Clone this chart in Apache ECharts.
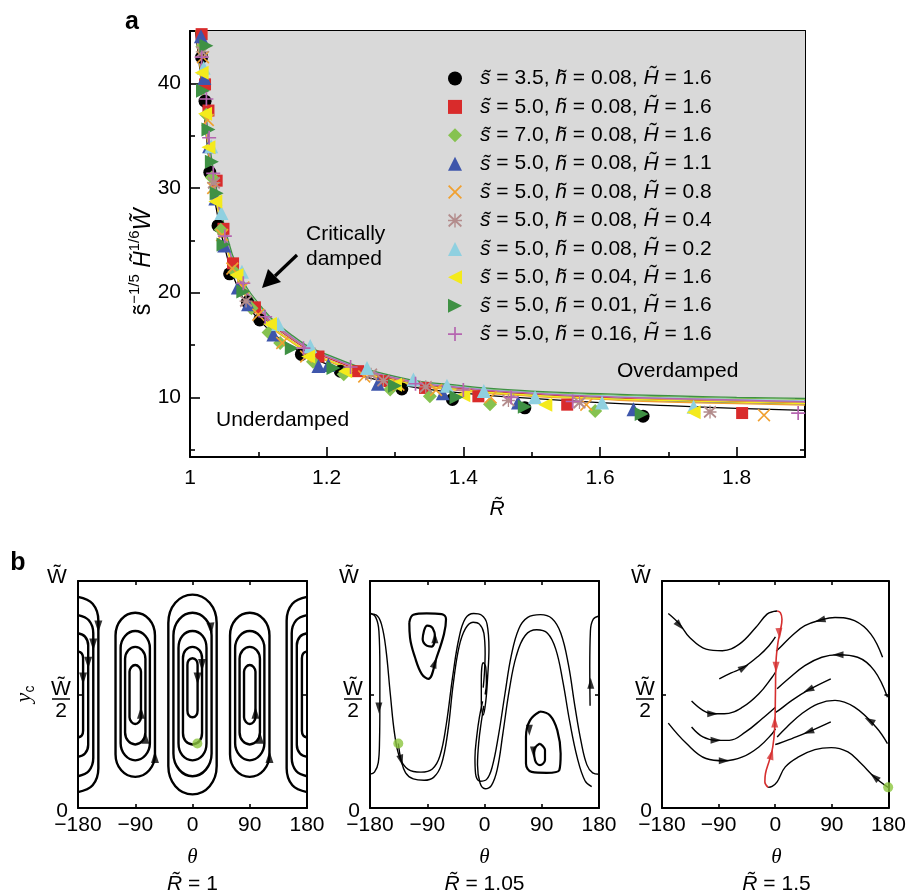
<!DOCTYPE html>
<html><head><meta charset="utf-8">
<script src="https://cdn.jsdelivr.net/npm/echarts@6/dist/echarts.min.js"></script>
<style>html,body{margin:0;padding:0;background:#fff}#c{width:909px;height:894px}</style>
</head><body><div id="c"></div>
<script>
// ---------- Panel a: tick values ----------
const xTicksA = [1, 1.2, 1.4, 1.6, 1.8];
const xMinorA = [1.1, 1.3, 1.5, 1.7];
const yTicksA = [10, 20, 30, 40];
const yMinorA = [5, 15, 25, 35];
const thetaLabels = [-180, -90, 0, 90, 180];
const thetaTicks = [-90, 0, 90];

// ---------- Panel a: legend parameters ----------
const sVals = ['3.5', '5.0', '7.0', '5.0', '5.0', '5.0', '5.0', '5.0', '5.0', '5.0'];
const hVals = ['0.08', '0.08', '0.08', '0.08', '0.08', '0.08', '0.08', '0.04', '0.01', '0.16'];
const HVals = ['1.6', '1.6', '1.6', '1.1', '0.8', '0.4', '0.2', '1.6', '1.6', '1.6'];

// ---------- Panel a: measured points [R, scaled W] ----------
const ptsBlack = [[1.017,42.5],[1.022,38.3],[1.029,31.5],[1.041,26.4],[1.058,21.8],[1.084,19.1],[1.102,17.4],[1.163,14.1],[1.22,12.5],[1.31,10.8],[1.384,9.8],[1.49,9.0],[1.663,8.2]];
const ptsRed = [[1.017,44.7],[1.022,39.9],[1.027,37.4],[1.039,30.7],[1.049,26.1],[1.063,22.8],[1.095,18.6],[1.188,13.9],[1.246,12.5],[1.283,11.55],[1.344,10.9],[1.422,10.1],[1.552,9.3],[1.808,8.5]];
const ptsDiamond = [[1.018,43.5],[1.024,37],[1.032,31],[1.045,26],[1.065,22],[1.09,18.5],[1.115,16.2],[1.132,15.2],[1.18,13.4],[1.225,12.2],[1.293,10.76],[1.351,10.1],[1.439,9.33],[1.593,8.7]];
const ptsBlue = [[1.016,44.5],[1.021,40.5],[1.028,34],[1.037,29],[1.05,24.5],[1.07,20.5],[1.085,18.9],[1.122,16],[1.188,13],[1.2025,13.1],[1.275,11.3],[1.37,10.4],[1.48,9.5],[1.649,8.86]];
const ptsOrange = [[1.019,42.5],[1.026,36.5],[1.034,30],[1.047,25.5],[1.062,22.3],[1.078,20.5],[1.1,17.9],[1.135,15.2],[1.17,13.9],[1.255,12],[1.305,11.2],[1.36,10.7],[1.44,10],[1.58,9.3],[1.84,8.3]];
const ptsAsterisk = [[1.018,43],[1.035,30.5],[1.082,19.2],[1.175,14.2],[1.265,12.2],[1.283,11.6],[1.345,11],[1.466,9.7],[1.57,9.5],[1.761,8.6]];
const ptsCyan = [[1.02,41.5],[1.031,34],[1.046,27.6],[1.076,22],[1.129,17],[1.176,14.9],[1.259,12.8],[1.327,11.7],[1.376,11.1],[1.43,10.6],[1.505,10.0],[1.603,9.5],[1.737,9.1]];
const ptsYellow = [[1.017,41],[1.022,37.1],[1.027,33.9],[1.037,28.7],[1.068,21.7],[1.117,17],[1.173,13.9],[1.227,12.5],[1.3,11.2],[1.4,10.2],[1.52,9.3],[1.737,8.57]];
const ptsGreen = [[1.024,43.6],[1.019,39.3],[1.027,35.6],[1.032,32.5],[1.039,29.5],[1.049,24.6],[1.078,20.1],[1.149,14.7],[1.21,12.8],[1.3,11.1],[1.39,10.0],[1.49,9.1],[1.661,8.4]];
const ptsPlus = [[1.017,42.5],[1.024,38.5],[1.028,34.8],[1.034,31.4],[1.051,25.4],[1.078,20.9],[1.11,17.7],[1.166,14.7],[1.235,12.9],[1.33,11.3],[1.4,10.7],[1.47,10.0],[1.56,9.6],[1.89,8.5]];

// ---------- Panel a: fitted curves (shared R grid) ----------
const fitR = [1.008, 1.015, 1.02, 1.03, 1.04, 1.05, 1.07, 1.1, 1.15, 1.2, 1.3, 1.4, 1.5, 1.6, 1.7, 1.8, 1.9];
const fitBlack = [45, 41, 37.5, 31.5, 27.5, 24.5, 20.5, 17.5, 14.8, 13.2, 11.3, 10.4, 9.9, 9.5, 9.2, 8.95, 8.75];
const fitRed = [46, 42, 38.5, 32.5, 28.7, 25.7, 21.6, 18.4, 15.5, 13.8, 11.7, 10.8, 10.3, 10.0, 9.75, 9.6, 9.45];
const fitDiamond = [46.5, 42.3, 38.8, 33, 29.1, 26.1, 22, 18.8, 15.8, 14.0, 11.9, 11.0, 10.5, 10.25, 10.05, 9.9, 9.8];
const fitBlue = [45.8, 41.8, 38.3, 32.3, 28.5, 25.5, 21.4, 18.2, 15.3, 13.6, 11.6, 10.7, 10.2, 9.9, 9.65, 9.5, 9.35];
const fitOrange = [45.5, 41.5, 38, 32, 28.2, 25.2, 21.2, 18.0, 15.2, 13.5, 11.5, 10.6, 10.1, 9.8, 9.55, 9.4, 9.25];
const fitAsterisk = [46, 42, 38.5, 32.6, 28.8, 25.8, 21.7, 18.5, 15.6, 13.9, 11.8, 10.9, 10.4, 10.1, 9.85, 9.7, 9.55];
const fitCyan = [46.2, 42.2, 38.7, 32.8, 29, 26, 21.9, 18.7, 15.75, 14.0, 11.9, 10.95, 10.45, 10.15, 9.95, 9.8, 9.65];
const fitYellow = [45.7, 41.7, 38.2, 32.2, 28.4, 25.4, 21.3, 18.1, 15.3, 13.6, 11.6, 10.7, 10.2, 9.9, 9.7, 9.55, 9.4];
const fitGreen = [48, 42.5, 39, 33.5, 29.5, 26.5, 22.3, 19, 15.9, 14.1, 12.0, 11.1, 10.6, 10.35, 10.15, 10.0, 9.9];
const fitPlus = [46.1, 42.1, 38.6, 32.7, 28.9, 25.9, 21.8, 18.6, 15.7, 13.95, 11.85, 10.9, 10.4, 10.1, 9.9, 9.75, 9.6];

// ---------- Panel b1 (R = 1): closed orbits [theta, y/W] ----------
const b1Curves = [
  [[38,0.5],[38,0.815],[27,0.904],[0,0.94],[-27,0.904],[-38,0.815],[-38,0.5],[-38,0.185],[-27,0.096],[0,0.06],[27,0.096],[38,0.185],[38,0.5]],
  [[30,0.5],[30,0.76],[21,0.831],[0,0.86],[-21,0.831],[-30,0.76],[-30,0.5],[-30,0.24],[-21,0.169],[0,0.14],[21,0.169],[30,0.24],[30,0.5]],
  [[22,0.5],[22,0.705],[16,0.758],[0,0.78],[-16,0.758],[-22,0.705],[-22,0.5],[-22,0.285],[-16,0.232],[0,0.21],[16,0.232],[22,0.285],[22,0.5]],
  [[15,0.5],[15,0.66],[11,0.695],[0,0.71],[-11,0.695],[-15,0.66],[-15,0.5],[-15,0.33],[-11,0.295],[0,0.28],[11,0.295],[15,0.33],[15,0.5]],
  [[8,0.53],[8,0.63],[6,0.651],[0,0.66],[-6,0.651],[-8,0.63],[-8,0.53],[-8,0.43],[-6,0.409],[0,0.40],[6,0.409],[8,0.43],[8,0.53]],
  [[-59,0.5],[-59,0.76],[-68,0.831],[-90,0.86],[-112,0.831],[-121,0.76],[-121,0.5],[-121,0.237],[-112,0.166],[-90,0.137],[-68,0.166],[-59,0.237],[-59,0.5]],
  [[-67,0.5],[-67,0.705],[-74,0.758],[-90,0.78],[-106,0.758],[-113,0.705],[-113,0.5],[-113,0.285],[-106,0.232],[-90,0.21],[-74,0.232],[-67,0.285],[-67,0.5]],
  [[-74,0.5],[-74,0.657],[-79,0.695],[-90,0.71],[-101,0.695],[-106,0.657],[-106,0.5],[-106,0.333],[-101,0.295],[-90,0.28],[-79,0.295],[-74,0.333],[-74,0.5]],
  [[-81,0.5],[-81,0.6],[-84,0.621],[-90,0.63],[-96,0.621],[-99,0.6],[-99,0.5],[-99,0.4],[-96,0.379],[-90,0.37],[-84,0.379],[-81,0.4],[-81,0.5]],
  [[121,0.5],[121,0.76],[112,0.831],[90,0.86],[68,0.831],[59,0.76],[59,0.5],[59,0.237],[68,0.166],[90,0.137],[112,0.166],[121,0.237],[121,0.5]],
  [[113,0.5],[113,0.705],[106,0.758],[90,0.78],[74,0.758],[67,0.705],[67,0.5],[67,0.285],[74,0.232],[90,0.21],[106,0.232],[113,0.285],[113,0.5]],
  [[106,0.5],[106,0.657],[101,0.695],[90,0.71],[79,0.695],[74,0.657],[74,0.5],[74,0.333],[79,0.295],[90,0.28],[101,0.295],[106,0.333],[106,0.5]],
  [[99,0.5],[99,0.6],[96,0.621],[90,0.63],[84,0.621],[81,0.6],[81,0.5],[81,0.4],[84,0.379],[90,0.37],[96,0.379],[99,0.4],[99,0.5]],
  [[-180,0.93],[-157,0.9],[-148,0.825],[-148,0.5],[-148,0.175],[-157,0.1],[-180,0.07]],
  [[-180,0.85],[-163,0.827],[-156,0.77],[-156,0.5],[-156,0.22],[-163,0.163],[-180,0.14]],
  [[-180,0.77],[-169,0.755],[-164,0.717],[-164,0.5],[-164,0.278],[-169,0.24],[-180,0.225]],
  [[-180,0.69],[-174,0.681],[-172,0.66],[-172,0.5],[-172,0.34],[-174,0.319],[-180,0.31]],
  [[180,0.93],[157,0.9],[148,0.825],[148,0.5],[148,0.175],[157,0.1],[180,0.07]],
  [[180,0.85],[163,0.827],[156,0.77],[156,0.5],[156,0.22],[163,0.163],[180,0.14]],
  [[180,0.77],[169,0.755],[164,0.717],[164,0.5],[164,0.278],[169,0.24],[180,0.225]],
  [[180,0.69],[174,0.681],[172,0.66],[172,0.5],[172,0.34],[174,0.319],[180,0.31]]
];
// arrow heads [theta, y/W, direction deg]
const b1Arrows = [[-148,0.8,180],[-156,0.72,180],[-164,0.64,180],[-172,0.57,180],[29,0.79,185],[15,0.63,180],[8,0.57,180],
  [-59,0.225,0],[-74,0.31,0],[-81,0.42,0],[121,0.225,0],[106,0.31,0],[99,0.42,0]];
const b1Start = [[7.6,0.284]];

// ---------- Panel b2 (R = 1.05) ----------
const b2Loops = [
  [[-118.2,0.817],[-111.9,0.851],[-90.9,0.857],[-67.3,0.854],[-60.5,0.832],[-63.7,0.766],[-75.2,0.664],[-88.3,0.569],[-98.8,0.591],[-109.3,0.664],[-117.1,0.751],[-118.2,0.817]],
  [[-95.1,0.781],[-89.9,0.803],[-81.5,0.792],[-77.8,0.751],[-83.1,0.711],[-90.9,0.715],[-97.2,0.744],[-95.1,0.781]],
  [[87.2,0.425],[103.0,0.408],[114.5,0.342],[119.7,0.240],[117.6,0.167],[97.7,0.155],[74.1,0.159],[65.2,0.196],[65.2,0.313],[71.5,0.386],[87.2,0.425]],
  [[87.2,0.284],[95.1,0.254],[95.1,0.211],[87.2,0.189],[79.4,0.211],[77.8,0.254],[87.2,0.284]]
];
const b2Curves = [
  [[-180,0.855],[-170,0.85],[-162,0.81],[-155,0.7],[-148,0.5],[-141,0.32],[-133,0.22],[-120,0.17],[-100,0.158],[-82,0.172],[-70,0.23],[-60,0.37],[-50,0.58],[-40,0.75],[-30,0.835],[-17,0.857],[-5,0.85],[4,0.81],[7,0.7],[5,0.58],[2,0.47],[-2,0.41],[-5,0.46],[-5,0.57],[-2,0.64],[2,0.62],[3,0.55],[1,0.5]],
  [[-135.5,0.284],[-131,0.21],[-124,0.155],[-112,0.128],[-95,0.122],[-80,0.135],[-68,0.19],[-58,0.33],[-49,0.55],[-40,0.71],[-30,0.79],[-18,0.818],[-8,0.81],[-1,0.77],[1,0.68],[0,0.6],[-2,0.53]],
  [[-3,0.47],[-8,0.4],[-12,0.32],[-15,0.22],[-14,0.15],[-7,0.118],[3,0.125],[12,0.18],[22,0.32],[32,0.5],[42,0.67],[54,0.79],[68,0.84],[88,0.852],[106,0.835],[120,0.77],[132,0.63],[142,0.45],[152,0.29],[161,0.19],[170,0.155],[180,0.149]],
  [[-1,0.45],[-5,0.38],[-9,0.29],[-11,0.19],[-7,0.11],[1,0.085],[11,0.1],[20,0.17],[29,0.33],[39,0.52],[50,0.67],[64,0.76],[82,0.785],[99,0.77],[112,0.7],[123,0.56],[134,0.38],[146,0.22],[158,0.12],[168.5,0.094]],
  [[-180,0.86],[-171,0.84],[-166,0.78],[-164.5,0.62],[-164.5,0.45],[-165,0.3],[-167,0.2],[-173,0.158],[-180,0.149]],
  [[180,0.846],[171,0.832],[166.5,0.78],[165.5,0.62],[166,0.45]]
];
const b2Arrows = [[-78,0.64,-19],[-78,0.75,0],[70.5,0.342,180],[77,0.247,180],[-166,0.44,180],[167,0.55,0],[-131,0.21,195]];
const b2Start = [[-135.5,0.284]];

// ---------- Panel b3 (R = 1.5) ----------
const b3Curves = [
  [[-170,0.857],[-152,0.81],[-136,0.751],[-110,0.70],[-84,0.693],[-57,0.722],[-31,0.795],[-13,0.854],[-2,0.866],[2.9,0.868]],
  [[-89,0.569],[-70,0.595],[-50,0.62],[-26,0.671],[-10,0.715],[0.3,0.754]],
  [[-133,0.471],[-115,0.43],[-99,0.415],[-81,0.415],[-52,0.444],[-26,0.503],[-5,0.576],[0.3,0.598]],
  [[-133,0.357],[-115,0.313],[-94,0.298],[-73,0.298],[-47,0.335],[-21,0.393],[0.3,0.444]],
  [[-170,0.374],[-141,0.284],[-110,0.218],[-81,0.208],[-52,0.225],[-26,0.269],[-5,0.327],[0.3,0.349]],
  [[170.6,0.664],[152,0.766],[126,0.825],[95,0.839],[71,0.827],[47,0.803],[26.5,0.759],[8,0.708],[1.5,0.69]],
  [[178.4,0.488],[157.5,0.605],[131,0.664],[100,0.675],[74,0.664],[47,0.627],[21,0.569],[3,0.525]],
  [[88.3,0.569],[53,0.52],[26.5,0.474],[5.5,0.43],[0,0.42]],
  [[178.4,0.284],[160,0.357],[126,0.444],[95,0.474],[68,0.459],[42,0.415],[18.6,0.357],[3,0.313]],
  [[88.3,0.379],[53,0.335],[26.5,0.306],[5.5,0.284],[0,0.28]],
  [[179.5,0.091],[157.5,0.137],[136.5,0.196],[115.5,0.247],[89,0.266],[63,0.257],[37,0.225],[16,0.181],[3,0.115],[-5,0.095],[-11.3,0.091]]
];
const b3Red = [[2.9,0.868],[8.1,0.861],[10.7,0.832],[8.6,0.788],[4.4,0.730],[1.3,0.649],[0.3,0.503],[-0.8,0.357],[-3.9,0.269],[-9.2,0.211],[-15.5,0.152],[-16.5,0.115],[-11.3,0.091]];
const b3Arrows = [[-151.7,0.803,222],[-49.5,0.62,300],[-99.3,0.415,270],[-94.1,0.298,270],[-81,0.208,270],[71,0.827,105],[99.8,0.675,90],[52.7,0.52,115],[52.7,0.335,110],[149.6,0.386,60],[157.5,0.137,50]];
const b3RedArrows = [[6.5,0.769,185],[1.3,0.62,180],[-0.8,0.379,0],[-6,0.237,-15]];
const b3Start = [[179.5,0.091]];

// ================= build chart =================
const FONT = '"Liberation Sans", Arial, sans-serif';
const chart = echarts.init(document.getElementById('c'), null, {renderer: 'canvas'});

const names = sVals.map((s, i) => 's=' + s + ',h=' + hVals[i] + ',H=' + HVals[i]);
const ptsList = [ptsBlack, ptsRed, ptsDiamond, ptsBlue, ptsOrange, ptsAsterisk, ptsCyan, ptsYellow, ptsGreen, ptsPlus];
const fitList = [fitBlack, fitRed, fitDiamond, fitBlue, fitOrange, fitAsterisk, fitCyan, fitYellow, fitGreen, fitPlus];
const colors = ['#000000', '#d92b2b', '#86c250', '#3e56ab', '#f0a030', '#b38c8c', '#8fd0e0', '#f4ea1c', '#3f9144', '#b565b0'];
const symbols = [
  'circle', 'rect', 'diamond', 'triangle',
  'path://M0,9L9,0L50,41L91,0L100,9L59,50L100,91L91,100L50,59L9,100L0,91L41,50Z',
  'path://M45,0H55V100H45Z M0,45H100V55H0Z M8,1L99,85L92,99L1,15Z M92,1L99,15L8,99L1,85Z',
  'triangle',
  'path://M0,50L100,0L100,100Z',
  'path://M100,50L0,0L0,100Z',
  'path://M44,0H56V44H100V56H56V100H44V56H0V44H44Z'
];
const sizes = [13, 12, 14, 14, 13, 13, 14, 14, 14, 14];

const series = [];
// grey overdamped region above the top curve
series.push({
  type: 'line', xAxisIndex: 0, yAxisIndex: 0, smooth: true, symbol: 'none', silent: true, z: 1,
  data: fitR.map((r, i) => [r, fitGreen[i]]),
  lineStyle: {width: 0}, areaStyle: {color: '#d9d9d9', origin: 'end', opacity: 1}
});
fitList.forEach((f, k) => {
  series.push({
    type: 'line', name: 'fit' + k, xAxisIndex: 0, yAxisIndex: 0, smooth: true, symbol: 'none', silent: true, z: 2,
    data: fitR.map((r, i) => [r, f[i]]),
    lineStyle: {width: 1.3, color: colors[k]}
  });
});
ptsList.forEach((p, k) => {
  series.push({
    type: 'scatter', name: names[k], xAxisIndex: 0, yAxisIndex: 0, z: 3 + k * 0.01,
    symbol: symbols[k], symbolSize: sizes[k], data: p,
    itemStyle: {color: colors[k], opacity: 1}
  });
});

function addCurves(list, xi, yi, width, color) {
  list.forEach(c => series.push({
    type: 'line', xAxisIndex: xi, yAxisIndex: yi, data: c, smooth: 0.4, symbol: 'none', silent: true, clip: true, z: 5,
    lineStyle: {color: color, width: width}
  }));
}
function addArrows(list, xi, yi, color, size) {
  series.push({
    type: 'scatter', xAxisIndex: xi, yAxisIndex: yi, data: list, symbol: 'triangle', symbolSize: size, silent: true, z: 7,
    symbolRotate: function (v) { return v[2]; }, itemStyle: {color: color}
  });
}
function addStart(list, xi, yi) {
  series.push({type: 'scatter', xAxisIndex: xi, yAxisIndex: yi, data: list, symbol: 'circle', symbolSize: 10, silent: true, z: 8, itemStyle: {color: '#8cc63f'}});
}
addCurves(b1Curves, 4, 4, 2.4, '#000');
addArrows(b1Arrows, 4, 4, '#000', [8, 12]);
addStart(b1Start, 4, 4);
addCurves(b2Loops, 6, 6, 2.2, '#000');
addCurves(b2Curves, 6, 6, 1.4, '#000');
addArrows(b2Arrows, 6, 6, '#000', [7, 11]);
addStart(b2Start, 6, 6);
addCurves(b3Curves, 8, 8, 1.4, '#000');
addCurves([b3Red], 8, 8, 1.6, '#d62f2f');
addArrows(b3Arrows, 8, 8, '#000', [7, 11]);
addArrows(b3RedArrows, 8, 8, '#d62f2f', [7, 11]);
addStart(b3Start, 8, 8);

// ---- axes ----
const AX = {color: '#000', width: 2};
function xAx(grid, pos, min, max, ticks, len, labels, fmt, showLine) {
  return {
    type: 'value', gridIndex: grid, position: pos, min: min, max: max,
    axisLine: {show: showLine, onZero: false, lineStyle: AX},
    axisTick: {show: true, inside: true, length: len, customValues: ticks, lineStyle: {color: '#000', width: 1.6}},
    axisLabel: labels ? {show: true, customValues: labels, formatter: fmt, color: '#000', fontSize: 21, fontFamily: FONT, margin: labels === thetaLabels ? 7 : 11} : {show: false},
    splitLine: {show: false}
  };
}
function yAx(grid, pos, min, max, ticks, len, labels, showLine) {
  return {
    type: 'value', gridIndex: grid, position: pos, min: min, max: max,
    axisLine: {show: showLine, onZero: false, lineStyle: AX},
    axisTick: {show: true, inside: true, length: len, customValues: ticks, lineStyle: {color: '#000', width: 1.6}},
    axisLabel: labels ? {show: true, customValues: labels, color: '#000', fontSize: 21, fontFamily: FONT, margin: 9} : {show: false},
    splitLine: {show: false}
  };
}
const fmtA = v => (v === 1 ? '1' : v.toFixed(1));
const fmtT = v => (v < 0 ? '\u2212' + Math.abs(v) : String(v));
const xAxes = [
  xAx(0, 'bottom', 1, 1.9, xTicksA, 10, xTicksA, fmtA, true),
  xAx(0, 'bottom', 1, 1.9, xMinorA, 5, null, null, false),
  xAx(0, 'top', 1, 1.9, xTicksA, 10, null, null, true),
  xAx(0, 'top', 1, 1.9, xMinorA, 5, null, null, false)
];
const yAxes = [
  yAx(0, 'left', 4.3, 45, yTicksA, 10, yTicksA, true),
  yAx(0, 'left', 4.3, 45, yMinorA, 5, null, false),
  yAx(0, 'right', 4.3, 45, yTicksA, 10, null, true),
  yAx(0, 'right', 4.3, 45, yMinorA, 5, null, false)
];
[1, 2, 3].forEach(g => {
  xAxes.push(xAx(g, 'bottom', -180, 180, thetaTicks, 4, thetaLabels, fmtT, true));
  xAxes.push(xAx(g, 'top', -180, 180, thetaTicks, 4, null, null, true));
  yAxes.push(yAx(g, 'left', 0, 1, [0.5], 4, null, true));
  yAxes.push(yAx(g, 'right', 0, 1, [0.5], 4, null, true));
});

// ---- text graphics ----
const T = (x, y, text, opts) => Object.assign({type: 'text', x: x, y: y, silent: true, z: 20,
  style: Object.assign({text: text, fill: '#000', font: '21px ' + FONT, align: 'center', verticalAlign: 'middle'}, opts || {})});
const graphics = [];
graphics.push(T(132, 22, 'a', {font: 'bold 25px ' + FONT}));
graphics.push(T(18, 563, 'b', {font: 'bold 25px ' + FONT}));
graphics.push(T(306, 234, 'Critically', {align: 'left'}));
graphics.push(T(306, 259, 'damped', {align: 'left'}));
graphics.push(T(617, 371, 'Overdamped', {align: 'left'}));
graphics.push(T(216, 420, 'Underdamped', {align: 'left'}));
graphics.push({type: 'line', silent: true, z: 20, shape: {x1: 297, y1: 255, x2: 275, y2: 276}, style: {stroke: '#000', lineWidth: 3.2}});
graphics.push({type: 'polygon', silent: true, z: 20, shape: {points: [[262, 288], [281, 282], [268, 269]]}, style: {fill: '#000'}});
graphics.push(T(497, 509, '{i|R\u0303}', {rich: {i: {font: 'italic 21px ' + FONT}}}));
graphics.push({type: 'text', x: 141, y: 262, rotation: Math.PI / 2, silent: true, z: 20,
  style: {text: '{m|s\u0303}{u|\u22121/5}{m| }{mi|H\u0303}{u|1/6}{mi|W\u0303}', align: 'center', verticalAlign: 'middle',
    rich: {m: {font: '23px ' + FONT, lineHeight: 28, verticalAlign: 'bottom'},
           mi: {font: 'italic 23px ' + FONT, lineHeight: 28, verticalAlign: 'bottom'},
           u: {font: '15px ' + FONT, lineHeight: 15, verticalAlign: 'top'}}}});
// panel b labels
const panelLeft = [78, 370, 662];
const panelR = ['1', '1.05', '1.5'];
panelLeft.forEach((L, i) => {
  const cx = L + 114.5;
  graphics.push(T(L - 21, 577, 'W\u0303'));
  graphics.push(T(L - 16, 811, '0'));
  graphics.push(T(L - 17, 689, 'W\u0303'));
  graphics.push({type: 'line', silent: true, z: 20, shape: {x1: L - 26, y1: 699, x2: L - 8, y2: 699}, style: {stroke: '#000', lineWidth: 1.5}});
  graphics.push(T(L - 17, 711, '2'));
  graphics.push(T(cx, 857, '\u03b8', {font: 'italic 21px "Liberation Serif", serif'}));
  graphics.push(T(cx, 884, '{i|R\u0303} = ' + panelR[i], {rich: {i: {font: 'italic 21px ' + FONT}}}));
});
graphics.push({type: 'text', x: 25, y: 694, rotation: Math.PI / 2, silent: true, z: 20,
  style: {text: '{i|y}{s|c}', align: 'center', verticalAlign: 'middle',
    rich: {i: {font: 'italic 22px "Liberation Serif", serif', lineHeight: 24, verticalAlign: 'top'}, s: {font: '14px ' + FONT, lineHeight: 18, verticalAlign: 'bottom'}}}});

chart.setOption({
  animation: false,
  backgroundColor: '#fff',
  grid: [
    {left: 190, top: 31, width: 615, height: 426},
    {left: 78, top: 581, width: 229, height: 227},
    {left: 370, top: 581, width: 229, height: 227},
    {left: 662, top: 581, width: 229, height: 227}
  ],
  xAxis: xAxes,
  yAxis: yAxes,
  legend: {
    data: names, orient: 'vertical', left: 448, top: 68, padding: 0, itemGap: 7.4,
    itemWidth: 14, itemHeight: 14, selectedMode: false,
    formatter: function (name) {
      const i = names.indexOf(name);
      return '{sp|}{i|s\u0303} = ' + sVals[i] + ', {i|h\u0303} = ' + hVals[i] + ', {i|H\u0303} = ' + HVals[i];
    },
    textStyle: {color: '#000', fontSize: 21, fontFamily: FONT, lineHeight: 20,
      rich: {sp: {width: 13, lineHeight: 20}, i: {fontStyle: 'italic', fontSize: 21, fontFamily: FONT, lineHeight: 20}}}
  },
  graphic: graphics,
  series: series
});
</script></body></html>
